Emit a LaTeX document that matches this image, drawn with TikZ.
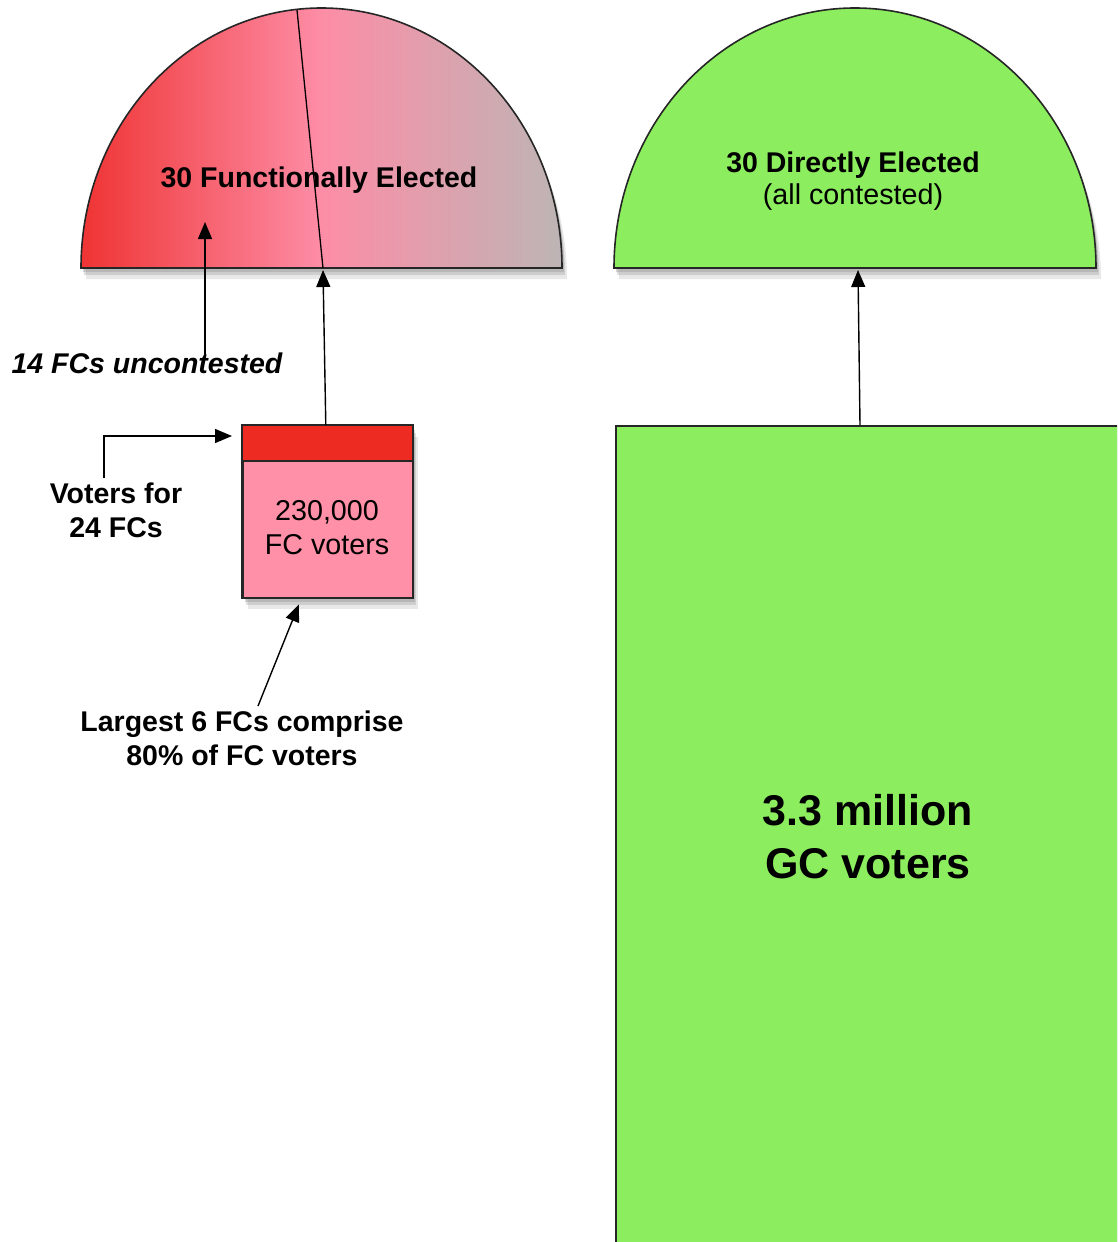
\documentclass[tikz,border=0pt]{standalone}
\usepackage{fontspec}
\setmainfont{Liberation Sans}
\usetikzlibrary{arrows.meta,shadows}
\definecolor{fcleft}{HTML}{EF3434}
\definecolor{fcmid}{HTML}{FD8DA6}
\definecolor{fcright}{HTML}{BDB5B5}
\definecolor{fcred}{HTML}{EE2B22}
\definecolor{boxpink}{HTML}{FF90A8}
\definecolor{gcgreen}{HTML}{8CEE5E}
\tikzset{
  outl/.style={draw=black!85, line width=1.6pt},
  shad/.style={
    drop shadow={opacity=0.18, shadow xshift=5pt, shadow yshift=-11pt},
    drop shadow={opacity=0.25, shadow xshift=3pt, shadow yshift=-7pt},
    drop shadow={opacity=0.3, shadow xshift=2pt, shadow yshift=-4pt}},
  arr/.style={draw=black, line width=1.4pt, -{Triangle[length=17pt,width=14pt]}},
  lbl/.style={font=\fontsize{28.5}{34}\selectfont\bfseries, align=center, anchor=base, inner sep=0pt},
  lblreg/.style={font=\fontsize{28.7}{34}\selectfont, align=center, anchor=base, inner sep=0pt},
  biglbl/.style={font=\fontsize{43}{53}\selectfont\bfseries, align=center, anchor=base, inner sep=0pt}
}
\begin{document}
\begin{tikzpicture}[x=1pt,y=-1pt]
\useasboundingbox (0,0) rectangle (1117,1242);
\clip (0,0) rectangle (1117,1242);

% Functionally elected semicircle
\path[outl, shad, left color=fcleft, right color=fcright, middle color=fcmid]
  (81,268) arc[start angle=180, end angle=0, x radius=240.5pt, y radius=260pt] -- cycle;
\coordinate (fctop) at (297,10);
\coordinate (fcbase) at (323,270);
\draw[line width=1.3pt] (fctop) -- (323,268);
\node[lbl] (fctxt) at (319,187) {30 Functionally Elected};

% Directly elected semicircle
\path[outl, shad, fill=gcgreen]
  (614,268) arc[start angle=180, end angle=0, x radius=241pt, y radius=260pt] -- cycle;
\coordinate (gcbase) at (858,270);
\node[lbl] (gctxt) at (853,172) {30 Directly Elected};
\node[lblreg] (gctxt2) at (853,204) {(all contested)};

% FC voters box
\node[outl, shad, fill=boxpink, minimum width=170pt, minimum height=172pt, anchor=north west, inner sep=0pt] (box) at (242,425) {};
\fill[fcred] (242,425) rectangle (412,461);
\draw[line width=1.6pt, draw=black!85] (242,461) -- (412,461);
\draw[outl] (box.north west) rectangle (box.south east);
\node[lblreg] (boxtxt) at (327,554) {230,000\\FC voters};

% GC voters block
\node[outl, shad, fill=gcgreen, minimum width=540pt, minimum height=860pt, anchor=north west, inner sep=0pt] (gc) at (615,425) {};
\node[biglbl] (gctxt3) at (868,878) {3.3 million\\GC voters};

% Labels
\node[lbl, font=\fontsize{28.5}{34}\selectfont\bfseries\itshape] (unc) at (147,373) {14 FCs uncontested};
\node[lbl] (vot) at (116,537) {Voters for\\24 FCs};
\node[lbl] (larg) at (242,765) {Largest 6 FCs comprise\\80\% of FC voters};

% Connectors
\coordinate (uncstart) at (205,357);
\coordinate (uncend) at (205,222);
\coordinate (votstart) at (104,478);
\coordinate (largstart) at (258,706);
\draw[arr] (uncstart) -- (uncend);
\draw[arr] ([xshift=-2pt]box.north) -- (fcbase);
\draw[arr] ([xshift=245pt]gc.north west) -- (gcbase);
\draw[arr] (votstart) |- ([xshift=-10pt,yshift=-11pt]box.north west);
\draw[arr] (largstart) -- ([xshift=-29pt,yshift=-6pt]box.south);
\end{tikzpicture}
\end{document}
